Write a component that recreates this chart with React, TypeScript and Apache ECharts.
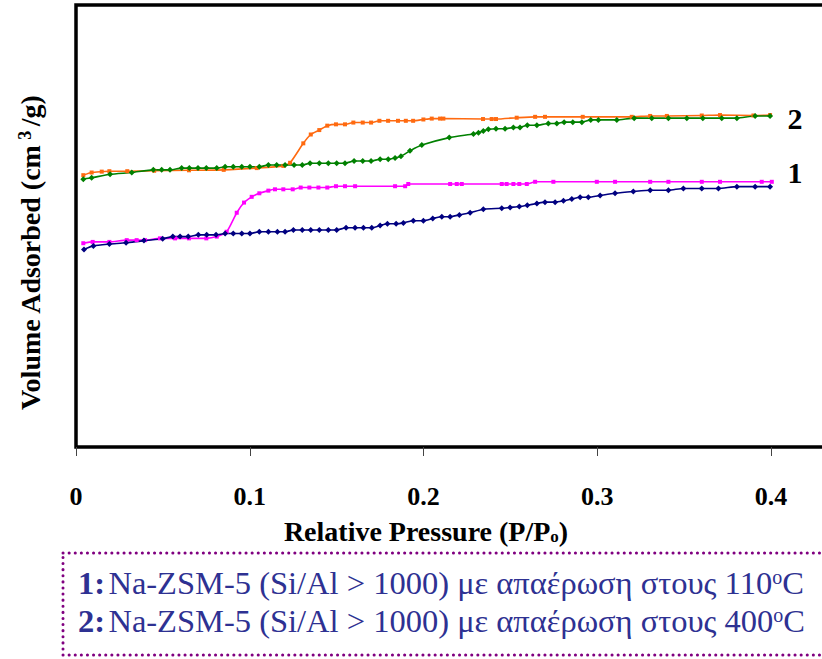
import React, { useEffect, useRef } from "react";
import * as echarts from "echarts";

// Relative pressure (P/Po) and volume adsorbed (arbitrary units, 0–100 of the frame)
const orangeX = [0.0042, 0.009, 0.0148, 0.0192, 0.0295, 0.045, 0.065, 0.085, 0.104, 0.1193, 0.1232, 0.1308, 0.1351, 0.14, 0.1446, 0.1496, 0.1548, 0.1596, 0.165, 0.1698, 0.1746, 0.1796, 0.1853, 0.1898, 0.194, 0.1999, 0.2047, 0.2095, 0.2114, 0.2342, 0.2392, 0.2417, 0.2536, 0.2642, 0.2699, 0.2916, 0.3198, 0.3304, 0.34, 0.3601, 0.3706, 0.3898, 0.3994];
const orangeY = [61.5, 62.1, 62.3, 62.4, 62.4, 62.5, 62.6, 62.7, 63.1, 63.6, 64.3, 68.7, 70.7, 71.7, 72.7, 73.0, 73.0, 73.4, 73.4, 73.4, 73.8, 73.8, 73.8, 73.8, 73.8, 74.1, 74.3, 74.3, 74.3, 74.2, 74.2, 74.2, 74.5, 74.7, 74.7, 74.7, 74.7, 74.9, 74.9, 75.0, 75.1, 75.0, 75.1];

const greenX = [0.0042, 0.009, 0.0196, 0.0321, 0.0445, 0.0493, 0.0541, 0.0608, 0.0652, 0.0702, 0.075, 0.081, 0.0858, 0.0905, 0.0954, 0.1001, 0.1055, 0.1107, 0.1155, 0.1203, 0.1255, 0.1302, 0.1347, 0.14, 0.1452, 0.15, 0.1548, 0.16, 0.165, 0.1698, 0.175, 0.1797, 0.1836, 0.187, 0.1922, 0.199, 0.2148, 0.2287, 0.2316, 0.2344, 0.2373, 0.2417, 0.2469, 0.2517, 0.2555, 0.2597, 0.2652, 0.2718, 0.2767, 0.2809, 0.2859, 0.2911, 0.2962, 0.3006, 0.3112, 0.3212, 0.3313, 0.3409, 0.3515, 0.3607, 0.3716, 0.3803, 0.3908, 0.3994];
const greenY = [60.6, 60.9, 61.7, 62.1, 62.7, 62.7, 62.7, 63.1, 63.1, 63.1, 63.1, 63.1, 63.4, 63.4, 63.4, 63.4, 63.4, 63.8, 63.8, 63.8, 63.8, 63.8, 64.2, 64.2, 64.2, 64.2, 64.2, 64.7, 64.7, 64.7, 65.1, 65.1, 65.4, 65.8, 67.0, 68.3, 70.0, 70.8, 71.1, 71.5, 71.9, 72.0, 72.0, 72.3, 72.3, 72.8, 72.8, 73.2, 73.2, 73.5, 73.5, 73.5, 74.0, 74.0, 74.0, 74.4, 74.4, 74.4, 74.4, 74.4, 74.4, 74.4, 74.9, 74.9];

const magentaX = [0.0042, 0.0096, 0.0192, 0.0292, 0.0349, 0.0397, 0.0483, 0.057, 0.065, 0.075, 0.081, 0.0867, 0.0925, 0.0967, 0.1011, 0.1055, 0.1107, 0.1145, 0.1193, 0.1247, 0.1293, 0.1343, 0.1395, 0.1446, 0.1496, 0.1548, 0.1606, 0.1836, 0.1894, 0.1912, 0.2153, 0.2191, 0.222, 0.245, 0.2478, 0.2517, 0.2551, 0.2594, 0.2642, 0.2747, 0.2997, 0.3102, 0.3304, 0.3409, 0.3601, 0.3706, 0.3946, 0.4004];
const magentaY = [46.1, 46.4, 46.4, 46.8, 46.8, 46.8, 47.2, 47.2, 47.2, 47.2, 47.6, 48.7, 53.0, 55.3, 56.6, 57.4, 58.0, 58.3, 58.3, 58.3, 58.7, 58.7, 58.7, 58.7, 59.0, 59.0, 59.0, 59.0, 59.0, 59.5, 59.5, 59.5, 59.5, 59.5, 59.5, 59.5, 59.5, 59.5, 60.0, 60.0, 60.0, 60.0, 60.0, 60.0, 60.0, 60.0, 60.0, 60.0];

const navyX = [0.0046, 0.01, 0.0192, 0.0288, 0.0391, 0.0499, 0.0557, 0.0599, 0.0646, 0.0704, 0.0752, 0.0806, 0.0858, 0.0905, 0.0954, 0.1001, 0.1055, 0.1107, 0.1159, 0.1203, 0.1251, 0.1302, 0.1351, 0.14, 0.1452, 0.15, 0.1554, 0.1606, 0.1654, 0.1702, 0.175, 0.1792, 0.1842, 0.1884, 0.1941, 0.1999, 0.2053, 0.2105, 0.2153, 0.2206, 0.2268, 0.2344, 0.245, 0.2498, 0.2551, 0.2597, 0.2652, 0.2699, 0.2757, 0.2805, 0.2853, 0.2901, 0.2948, 0.3016, 0.3102, 0.3207, 0.3304, 0.3409, 0.3495, 0.3601, 0.3697, 0.3803, 0.3908, 0.3994];
const navyY = [44.7, 45.5, 45.9, 46.2, 46.7, 47.1, 47.6, 47.6, 47.6, 48.0, 48.0, 48.0, 48.3, 48.3, 48.3, 48.3, 48.7, 48.7, 48.7, 48.7, 49.1, 49.1, 49.1, 49.1, 49.1, 49.1, 49.6, 49.6, 49.6, 49.6, 50.1, 50.5, 50.5, 50.7, 51.2, 51.2, 51.7, 52.1, 52.1, 52.5, 53.0, 53.8, 54.0, 54.2, 54.4, 54.7, 55.1, 55.4, 55.4, 55.7, 56.1, 56.5, 56.5, 56.9, 57.4, 57.8, 58.1, 58.1, 58.5, 58.5, 58.5, 58.9, 58.9, 58.9];

const xTicks = [0, 0.1, 0.2, 0.3, 0.4];
const curveLabels = ["1", "2"];
const legendLines = [
  { num: "1:", text: "Na-ZSM-5 (Si/Al > 1000) με απαέρωση στους 110", unit: "C" },
  { num: "2:", text: "Na-ZSM-5 (Si/Al > 1000) με απαέρωση στους 400", unit: "C" },
];

const SERIF = "Liberation Serif";
const LEG = "#2E3192";

function zip(xs: number[], ys: number[]) {
  return xs.map((x, i) => [x, ys[i]]);
}

export default function App() {
  const ref = useRef<HTMLDivElement>(null);
  useEffect(() => {
    if (!ref.current) return;
    const chart = echarts.init(ref.current, undefined, { renderer: "svg" });
    const mk = (name: string, xs: number[], ys: number[], color: string, symbol: string, size: number) => ({
      name,
      type: "line",
      data: zip(xs, ys),
      symbol,
      symbolSize: size,
      smooth: 0.2,
      lineStyle: { color, width: 1.6 },
      itemStyle: { color },
      z: 3,
    });
    chart.setOption({
      animation: false,
      backgroundColor: "#fff",
      grid: { left: 76, top: 5, bottom: 212, width: 782, show: true, borderColor: "#000", borderWidth: 3.5, backgroundColor: "transparent" },
      xAxis: {
        type: "value",
        min: 0,
        max: 0.45,
        interval: 0.1,
        splitLine: { show: false },
        axisLine: { show: false },
        axisTick: { show: true, length: 9, inside: false, lineStyle: { color: "#444", width: 1 } },
        axisLabel: {
          margin: 36,
          fontFamily: SERIF,
          fontWeight: "bold",
          fontSize: 26,
          color: "#000",
          formatter: (v: number) => {
            const t = xTicks.find((k) => Math.abs(k - v) < 1e-6);
            return t === undefined ? "" : String(t);
          },
        },
      },
      yAxis: {
        type: "value",
        min: 0,
        max: 100,
        axisLine: { show: false },
        axisTick: { show: false },
        axisLabel: { show: false },
        splitLine: { show: false },
      },
      series: [
        mk("1 desorption", magentaX, magentaY, "#FF00FF", "rect", 4),
        mk("2 desorption", orangeX, orangeY, "#FF6A10", "rect", 4),
        mk("1 adsorption", navyX, navyY, "#000080", "diamond", 6),
        mk("2 adsorption", greenX, greenY, "#008000", "diamond", 6),
      ],
      graphic: [
        {
          type: "text",
          x: 30,
          y: 253,
          rotation: Math.PI / 2,
          style: {
            text: "{t|Volume Adsorbed (cm}{s| 3 }{t|/g)}",
            align: "center",
            verticalAlign: "middle",
            rich: {
              t: { fontFamily: SERIF, fontWeight: "bold", fontSize: 28, fill: "#000" },
              s: { fontFamily: SERIF, fontWeight: "bold", fontSize: 18, fill: "#000", verticalAlign: "top", padding: [0, 0, 10, 0] },
            },
          },
        },
        {
          type: "text",
          x: 426,
          y: 531,
          style: {
            text: "{t|Relative Pressure (P/P}{s|o}{t|)}",
            align: "center",
            verticalAlign: "middle",
            rich: {
              t: { fontFamily: SERIF, fontWeight: "bold", fontSize: 28, fill: "#000" },
              s: { fontFamily: SERIF, fontWeight: "bold", fontSize: 17, fill: "#000", verticalAlign: "bottom", padding: [10, 0, 0, 0] },
            },
          },
        },
        {
          type: "text",
          x: 795,
          y: 172,
          style: { text: curveLabels[0], fontFamily: SERIF, fontWeight: "bold", fontSize: 30, fill: "#000", align: "center", verticalAlign: "middle" },
        },
        {
          type: "text",
          x: 795,
          y: 118,
          style: { text: curveLabels[1], fontFamily: SERIF, fontWeight: "bold", fontSize: 30, fill: "#000", align: "center", verticalAlign: "middle" },
        },
        {
          type: "rect",
          shape: { x: 63, y: 553, width: 800, height: 102 },
          style: { fill: "transparent", stroke: "#800080", lineWidth: 3, lineDash: [0.1, 6], lineCap: "round" },
        },
        ...legendLines.map((l, i) => ({
          type: "text",
          x: 78,
          y: 583 + i * 38,
          style: {
            text: `{b|${l.num}} {n|${l.text}}{s|o}{n|${l.unit}}`,
            align: "left",
            verticalAlign: "middle",
            rich: {
              b: { fontFamily: SERIF, fontWeight: "bold", fontSize: 32.5, fill: LEG },
              n: { fontFamily: SERIF, fontSize: 32.5, fill: LEG },
              s: { fontFamily: SERIF, fontSize: 20, fill: LEG, verticalAlign: "top", padding: [0, 0, 12, 0] },
            },
          },
        })),
      ],
    });
    return () => chart.dispose();
  }, []);
  return (
    <div style={{ position: "absolute", left: 0, top: 0, width: 822, height: 659, overflow: "hidden", background: "#fff" }}>
      <div ref={ref} style={{ width: 900, height: 659 }} />
    </div>
  );
}
